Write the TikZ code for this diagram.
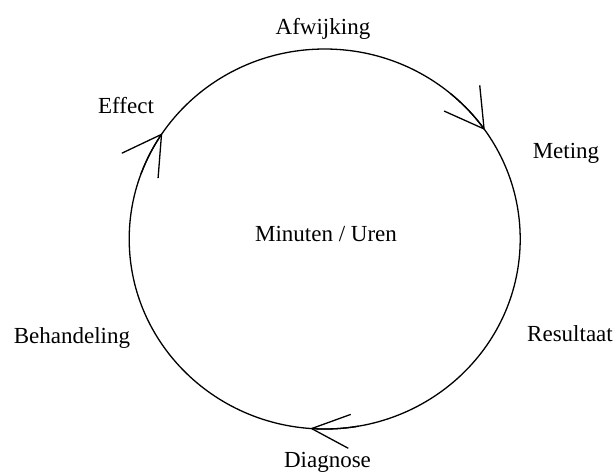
\documentclass[tikz,border=0pt]{standalone}
\usepackage{fontspec}
\setmainfont{Liberation Serif}
\usetikzlibrary{arrows.meta,shapes.geometric,positioning}

\begin{document}
\begin{tikzpicture}[
    x=0.5pt, y=0.5pt,
    cyclering/.style={ellipse, draw=black, line width=0.65pt, minimum width=195.5pt, minimum height=190pt, inner sep=0pt, outer sep=0pt},
    phase/.style={font=\fontsize{11.5}{14}\selectfont, anchor=base, inner sep=0pt},
    barb/.style={-{Straight Barb[length=19pt, width=#1, line width=0.65pt]}, line width=0.65pt},
    barb/.default=22pt
]
\useasboundingbox (0,0) rectangle (616,-472);

% Cycle
\node[cyclering] (cyc) at (324.7,-239) {};
\node[phase] (time) at (326,-241) {Minuten / Uren};

% Phases round the cycle
\node[phase] (afw) at (323,-34) {Afwijking};
\node[phase] (met) at (566,-158) {Meting};
\node[phase] (res) at (570,-341) {Resultaat};
\node[phase] (dia) at (327.5,-467) {Diagnose};
\node[phase] (beh) at (72,-343) {Behandeling};
\node[phase] (eff) at (126,-113) {Effect};

% Direction of the cycle
\draw[barb] (cyc.center) ++(50:97.75pt and 95pt) arc[start angle=50, end angle=35, x radius=97.75pt, y radius=95pt];
\draw[barb=17pt] (cyc.center) ++(280:97.75pt and 95pt) arc[start angle=280, end angle=265.7, x radius=97.75pt, y radius=95pt];
\draw[barb] (cyc.center) ++(160:97.75pt and 95pt) arc[start angle=160, end angle=146.2, x radius=97.75pt, y radius=95pt];

\end{tikzpicture}
\end{document}
